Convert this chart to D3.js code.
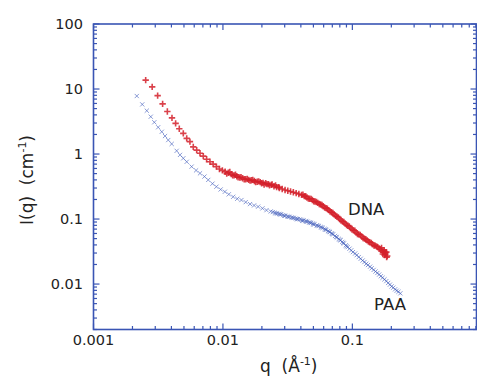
<!DOCTYPE html>
<html>
<head>
<meta charset="utf-8">
<script src="https://cdn.jsdelivr.net/npm/d3@7"></script>
<style>
  body { margin: 0; background: #fff; }
  svg text { font-family: "DejaVu Sans", sans-serif; fill: #222; white-space: pre; }
</style>
</head>
<body>
<div id="chart"></div>
<script>
// DNA (red +)
const dnaQ = [0.00253, 0.00284, 0.00313, 0.00342, 0.00372, 0.00404, 0.00431, 0.0046, 0.00494, 0.00525,
  0.00556, 0.0059, 0.00627, 0.00665, 0.00705, 0.00748, 0.00794, 0.0084, 0.0089, 0.0094,
  0.0099, 0.0104, 0.0110, 0.0116, 0.0122, 0.0128, 0.0135, 0.0142, 0.0150, 0.0158,
  0.0166, 0.0175, 0.0184, 0.0194, 0.0204, 0.0214, 0.0225, 0.0236, 0.0248, 0.0260,
  0.0273, 0.0287, 0.0302, 0.0317, 0.0333, 0.0350, 0.0368, 0.0386, 0.0405, 0.0425,
  0.0446, 0.0468, 0.0491, 0.0515, 0.0541, 0.0568, 0.0596, 0.0626, 0.0657, 0.0690,
  0.0724, 0.0760, 0.0798, 0.0838, 0.0880, 0.0924, 0.0970, 0.102, 0.107, 0.112,
  0.118, 0.124, 0.130, 0.136, 0.143, 0.150, 0.157, 0.165, 0.173, 0.180,
  0.186, 0.168, 0.176, 0.183, 0.177, 0.0208, 0.0229, 0.0255,
  // second (high-q) set
  0.0415, 0.0436, 0.0457, 0.048, 0.0503, 0.0528, 0.0555, 0.0582, 0.0611, 0.0641,
  0.0673, 0.0707, 0.0742, 0.0779, 0.0818, 0.0859, 0.0902, 0.0947, 0.0995, 0.1045,
  0.1095, 0.115, 0.121, 0.127, 0.133, 0.140, 0.147, 0.154, 0.161, 0.169,
  0.172, 0.179, 0.184,
  0.0107, 0.0113, 0.0119, 0.0125, 0.0131, 0.0138, 0.0146, 0.0154, 0.0162, 0.0170,
  0.0179, 0.0189, 0.0199, 0.0219, 0.0240, 0.0270];
const dnaI = [13.7, 10.8, 7.9, 5.9, 4.5, 3.6, 2.96, 2.45, 2.08, 1.74,
  1.55, 1.29, 1.15, 1.03, 0.93, 0.83, 0.76, 0.70, 0.64, 0.59,
  0.56, 0.535, 0.515, 0.49, 0.47, 0.455, 0.435, 0.425, 0.41, 0.40,
  0.395, 0.385, 0.375, 0.37, 0.36, 0.355, 0.345, 0.335, 0.32, 0.31,
  0.30, 0.29, 0.28, 0.272, 0.265, 0.258, 0.25, 0.243, 0.235, 0.225,
  0.215, 0.205, 0.196, 0.186, 0.177, 0.167, 0.157, 0.147, 0.137, 0.127,
  0.118, 0.109, 0.100, 0.092, 0.085, 0.079, 0.073, 0.067, 0.062, 0.058,
  0.054, 0.050, 0.047, 0.044, 0.041, 0.039, 0.037, 0.034, 0.031, 0.029,
  0.027, 0.036, 0.033, 0.031, 0.028, 0.34, 0.33, 0.33,
  0.236, 0.224, 0.206, 0.204, 0.188, 0.183, 0.170, 0.164, 0.150, 0.144,
  0.130, 0.124, 0.112, 0.106, 0.095, 0.090, 0.081, 0.077, 0.069, 0.066,
  0.059, 0.057, 0.051, 0.049, 0.045, 0.043, 0.039, 0.038, 0.035, 0.033,
  0.029, 0.031, 0.026,
  0.50, 0.53, 0.47, 0.48, 0.44, 0.44, 0.41, 0.415, 0.39, 0.40,
  0.37, 0.38, 0.355, 0.345, 0.34, 0.31];

// PAA (blue x)
const paaQ = [0.00216, 0.00238, 0.00258, 0.00277, 0.00295, 0.00316, 0.00337, 0.00357, 0.00378, 0.00402,
  0.00439, 0.00466, 0.00494, 0.00525, 0.00573, 0.0062, 0.00665, 0.0072, 0.0077, 0.0083,
  0.0089, 0.0096, 0.01035, 0.0111, 0.012, 0.0129, 0.0139, 0.015, 0.0162, 0.0174,
  0.0187, 0.0202, 0.0217, 0.0234, 0.0252, 0.0271, 0.0292, 0.0315, 0.034, 0.0366,
  0.0394, 0.042, 0.045, 0.048, 0.051, 0.055, 0.059, 0.063, 0.067, 0.071,
  0.076, 0.081, 0.086, 0.092, 0.098, 0.105, 0.112, 0.120, 0.128, 0.137,
  0.146, 0.156, 0.166, 0.177, 0.189, 0.201, 0.214, 0.227, 0.235,
  0.0405, 0.0435, 0.0465, 0.0495, 0.053, 0.057, 0.061, 0.065, 0.069, 0.0735,
  0.0785, 0.0835, 0.089, 0.0243, 0.0262, 0.0281, 0.0303, 0.0327, 0.0353, 0.038,
  0.0257, 0.0277, 0.0298, 0.0321, 0.0346, 0.0373, 0.041, 0.044, 0.047, 0.050,
  0.054, 0.058, 0.062, 0.066, 0.070, 0.075, 0.080, 0.085, 0.090,
  0.095, 0.101, 0.108, 0.116, 0.124, 0.132, 0.141, 0.151, 0.161, 0.171,
  0.183, 0.195, 0.207, 0.220];
const paaI = [7.8, 5.8, 4.64, 3.75, 3.08, 2.58, 2.2, 1.89, 1.64, 1.43,
  1.12, 0.97, 0.86, 0.76, 0.64, 0.56, 0.505, 0.45, 0.40, 0.35,
  0.314, 0.285, 0.263, 0.24, 0.22, 0.205, 0.196, 0.182, 0.17, 0.162,
  0.155, 0.146, 0.137, 0.131, 0.125, 0.12, 0.115, 0.11, 0.106, 0.102,
  0.099, 0.095, 0.091, 0.087, 0.083, 0.078, 0.073, 0.068, 0.063, 0.058,
  0.052, 0.047, 0.042, 0.037, 0.033, 0.0295, 0.026, 0.023, 0.0205, 0.0185,
  0.0165, 0.0148, 0.0132, 0.0118, 0.0104, 0.0092, 0.0083, 0.0076, 0.0072,
  0.097, 0.093, 0.089, 0.085, 0.080, 0.0755, 0.0705, 0.0655, 0.0605, 0.055,
  0.0495, 0.0445, 0.0395, 0.128, 0.122, 0.118, 0.112, 0.108, 0.104, 0.100,
  0.122, 0.118, 0.112, 0.108, 0.104, 0.0995, 0.094, 0.092, 0.088, 0.083,
  0.079, 0.074, 0.069, 0.064, 0.059, 0.053, 0.048, 0.043, 0.038,
  0.035, 0.031, 0.0278, 0.0245, 0.0218, 0.0196, 0.0175, 0.0156, 0.014, 0.0125,
  0.0111, 0.0098, 0.0088, 0.0079];

const xTickLabels = ['0.001', '0.01', '0.1'];
const yTickLabels = ['100', '10', '1', '0.1', '0.01'];

const W = 477, H = 379;
const pLeft = 93.5, pRight = 476.5, pTop = 24, pBottom = 329.5;
const axisColor = '#3a55b4';

const x = d3.scaleLog().domain([0.001, 0.91]).range([pLeft, pRight]);
const y = d3.scaleLog().domain([0.002, 100]).range([pBottom, pTop]);

const svg = d3.select('#chart').append('svg').attr('width', W).attr('height', H);

// log ticks, majors at decades
const xTicks = [];
for (let e = -3; e <= 0; e++) for (let m = 1; m <= 9; m++) {
  const v = m * Math.pow(10, e);
  if (v >= 0.001 && v <= 0.91) xTicks.push({ v, major: m === 1 });
}
const yTicks = [];
for (let e = -3; e <= 2; e++) for (let m = 1; m <= 9; m++) {
  const v = m * Math.pow(10, e);
  if (v >= 0.002 && v <= 100) yTicks.push({ v, major: m === 1 });
}

const ticks = svg.append('g').attr('stroke', axisColor).attr('stroke-width', 1.2);
// bottom & top
ticks.selectAll('.xb').data(xTicks).join('line').attr('class', 'xb')
  .attr('x1', d => x(d.v)).attr('x2', d => x(d.v))
  .attr('y1', pBottom).attr('y2', d => pBottom - (d.major ? 6 : 3.5));
ticks.selectAll('.xt').data(xTicks).join('line').attr('class', 'xt')
  .attr('x1', d => x(d.v)).attr('x2', d => x(d.v))
  .attr('y1', pTop).attr('y2', d => pTop + (d.major ? 6 : 3.5));
// left & right
ticks.selectAll('.yl').data(yTicks).join('line').attr('class', 'yl')
  .attr('y1', d => y(d.v)).attr('y2', d => y(d.v))
  .attr('x1', pLeft).attr('x2', d => pLeft + (d.major ? 6 : 3.5));
ticks.selectAll('.yr').data(yTicks).join('line').attr('class', 'yr')
  .attr('y1', d => y(d.v)).attr('y2', d => y(d.v))
  .attr('x1', pRight).attr('x2', d => pRight - (d.major ? 6 : 3.5));

// frame
svg.append('rect')
  .attr('x', pLeft).attr('y', pTop)
  .attr('width', pRight - pLeft).attr('height', pBottom - pTop)
  .attr('fill', 'none').attr('stroke', axisColor).attr('stroke-width', 1.6);

// tick labels
svg.selectAll('.xlab').data(xTickLabels).join('text').attr('class', 'xlab')
  .attr('x', d => x(+d)).attr('y', 345)
  .attr('text-anchor', 'middle').style('font-size', '14.5px')
  .text(d => d);
svg.selectAll('.ylab').data(yTickLabels).join('text').attr('class', 'ylab')
  .attr('x', 83).attr('y', d => y(+d) + 5)
  .attr('text-anchor', 'end').style('font-size', '14.5px')
  .text(d => d);

// axis titles
const xt = svg.append('text').attr('x', 260).attr('y', 372).style('font-size', '17px');
xt.append('tspan').text('q  (Å');
xt.append('tspan').attr('dy', -7).style('font-size', '11px').text('-1');
xt.append('tspan').attr('dy', 7).text(')');

const yt = svg.append('text')
  .attr('transform', 'translate(33,180) rotate(-90)')
  .attr('text-anchor', 'middle').style('font-size', '17px');
yt.append('tspan').text('I(q)  (cm');
yt.append('tspan').attr('dy', -7).style('font-size', '11px').text('-1');
yt.append('tspan').attr('dy', 7).text(')');

// PAA markers (x)
const paa = paaQ.map((q, i) => ({ q, I: paaI[i] }));
const a = 2.1;
svg.append('g').selectAll('path').data(paa).join('path')
  .attr('d', d => {
    const px = x(d.q), py = y(d.I);
    return `M${px - a},${py - a}L${px + a},${py + a}M${px - a},${py + a}L${px + a},${py - a}`;
  })
  .attr('stroke', '#4560bc').attr('stroke-width', 0.9).attr('fill', 'none').attr('opacity', 0.7);

// DNA markers (+)
const dna = dnaQ.map((q, i) => ({ q, I: dnaI[i] }));
const b = 3.2;
svg.append('g').selectAll('path').data(dna).join('path')
  .attr('d', d => {
    const px = x(d.q), py = y(d.I);
    return `M${px - b},${py}L${px + b},${py}M${px},${py - b}L${px},${py + b}`;
  })
  .attr('stroke', '#d4202a').attr('stroke-width', 1.6).attr('fill', 'none').attr('opacity', 0.85);

// series labels
svg.append('text').attr('x', 348).attr('y', 215).style('font-size', '16.5px').text('DNA');
svg.append('text').attr('x', 374).attr('y', 310).style('font-size', '16.5px').text('PAA');
</script>
</body>
</html>
